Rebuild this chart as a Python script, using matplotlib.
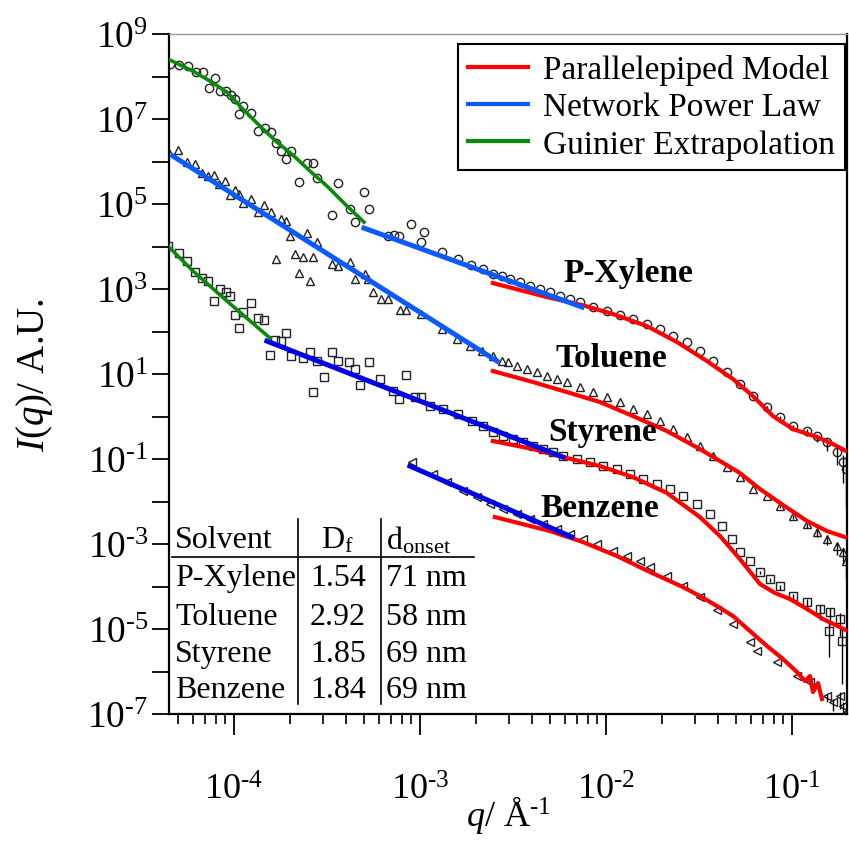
import numpy as np
import matplotlib
matplotlib.use("Agg")
import matplotlib.pyplot as plt
from matplotlib.lines import Line2D
from matplotlib.ticker import LogLocator, NullLocator, NullFormatter

plt.rcParams['font.family'] = ['Liberation Serif', 'DejaVu Serif']
plt.rcParams['mathtext.fontset'] = 'custom'
plt.rcParams['mathtext.rm'] = 'Liberation Serif'
plt.rcParams['mathtext.it'] = 'Liberation Serif:italic'
plt.rcParams['mathtext.bf'] = 'Liberation Serif:bold'

# values, stored as log10(q) and log10(I)
xyl_lq = [-4.344, -4.296, -4.247, -4.204, -4.167, -4.102, -4.134, -4.075, -4.043, -4.016,
          -3.995, -3.952, -3.973, -3.909, -3.871, -3.833, -3.801, -3.774, -3.747, -3.694,
          -3.720, -3.608, -3.575, -3.554, -3.651, -3.441, -3.301, -3.274, -3.376, -3.473,
          -3.349, -3.048, -2.978, -2.995, -3.172, -3.140, -3.113, -2.882, -2.796, -2.726,
          -2.661, -2.608, -2.559, -2.516, -2.462, -2.409, -2.355, -2.301, -2.247, -2.194,
          -2.140, -2.070, -1.995, -1.925, -1.855, -1.780, -1.710, -1.640, -1.565, -1.495,
          -1.425, -1.349, -1.280, -1.210, -1.134, -1.065, -0.995, -0.919, -0.866, -0.812,
          -0.758, -0.726, -0.710]
xyl_lI = [8.294, 8.271, 8.247, 8.106, 8.106, 7.965, 7.729, 7.659, 7.659, 7.565,
          7.471, 7.306, 7.118, 7.141, 6.718, 6.788, 6.694, 6.435, 6.247, 6.247,
          6.059, 5.965, 5.965, 5.612, 5.518, 5.494, 5.282, 4.882, 4.882, 4.741,
          4.576, 4.529, 4.341, 4.106, 4.247, 4.271, 4.247, 3.871, 3.706, 3.565,
          3.471, 3.353, 3.306, 3.235, 3.165, 3.071, 3.000, 2.929, 2.835, 2.765,
          2.694, 2.576, 2.482, 2.388, 2.294, 2.176, 2.059, 1.894, 1.753, 1.541,
          1.306, 1.047, 0.765, 0.482, 0.224, -0.012, -0.224, -0.341, -0.459, -0.600,
          -0.835, -1.071, -1.235]
xyl_err = [0.05, 0.05, 0.08, 0.1, 0.12, 0.15, 0.2, 0.3, 0.5, 0.9]

tol_lq = [-4.355, -4.301, -4.253, -4.210, -4.172, -4.140, -4.108, -4.048, -4.081, -3.995,
          -4.022, -3.973, -3.909, -3.952, -3.839, -3.871, -3.801, -3.747, -3.720, -3.608,
          -3.699, -3.554, -3.774, -3.672, -3.629, -3.575, -3.376, -3.473, -3.441, -3.651,
          -3.591, -3.349, -3.296, -3.280, -3.253, -3.210, -3.172, -3.108, -3.075, -2.995,
          -2.882, -2.801, -2.731, -2.667, -2.608, -2.559, -2.527, -2.478, -2.425, -2.371,
          -2.317, -2.263, -2.210, -2.140, -2.070, -1.995, -1.925, -1.855, -1.780, -1.710,
          -1.640, -1.565, -1.495, -1.425, -1.349, -1.280, -1.210, -1.134, -1.065, -0.995,
          -0.919, -0.866, -0.812, -0.758, -0.726, -0.710]
tol_lI = [6.247, 6.271, 5.988, 5.941, 5.729, 5.659, 5.682, 5.541, 5.471, 5.329,
          5.212, 5.235, 5.118, 5.024, 4.976, 4.812, 4.812, 4.647, 4.600, 4.318,
          4.247, 4.106, 3.706, 3.824, 3.753, 3.753, 3.635, 3.588, 3.541, 3.376,
          3.188, 3.235, 3.353, 3.235, 2.929, 2.765, 2.765, 2.506, 2.506, 2.412,
          2.059, 1.824, 1.659, 1.541, 1.424, 1.306, 1.282, 1.188, 1.118, 1.047,
          0.953, 0.882, 0.812, 0.694, 0.576, 0.459, 0.341, 0.176, 0.059, -0.106,
          -0.294, -0.482, -0.694, -0.929, -1.188, -1.424, -1.706, -1.871, -2.106, -2.341,
          -2.529, -2.718, -2.882, -3.047, -3.188, -3.400]
tol_err = [0.05, 0.08, 0.1, 0.12, 0.15, 0.2, 0.25, 0.4]

sty_lq = [-4.355, -4.296, -4.253, -4.210, -4.172, -4.140, -4.075, -4.043, -4.022, -4.108,
          -3.995, -3.952, -3.909, -3.871, -3.839, -3.973, -3.780, -3.747, -3.720, -3.806,
          -3.694, -3.629, -3.591, -3.554, -3.473, -3.441, -3.382, -3.349, -3.274, -3.516,
          -3.575, -3.323, -3.215, -3.075, -3.145, -3.113, -3.027, -2.995, -2.946, -2.876,
          -2.796, -2.720, -2.661, -2.608, -2.554, -2.500, -2.446, -2.392, -2.339, -2.285,
          -2.231, -2.156, -2.086, -2.016, -1.941, -1.871, -1.801, -1.726, -1.656, -1.586,
          -1.511, -1.441, -1.376, -1.323, -1.280, -1.226, -1.172, -1.118, -1.065, -0.995,
          -0.919, -0.849, -0.796, -0.742, -0.801, -0.731]
sty_lI = [4.012, 3.847, 3.659, 3.400, 3.259, 3.188, 3.000, 2.929, 2.835, 2.718,
          2.388, 2.459, 2.671, 2.318, 2.271, 2.082, 1.800, 1.776, 1.965, 1.447,
          1.424, 1.376, 1.518, 1.306, 1.518, 1.306, 1.282, 1.118, 1.282, 0.929,
          0.576, 0.741, 0.882, 0.976, 0.600, 0.412, 0.459, 0.459, 0.247, 0.176,
          0.059, -0.106, -0.224, -0.365, -0.459, -0.529, -0.600, -0.694, -0.765, -0.835,
          -0.929, -1.000, -1.071, -1.165, -1.235, -1.353, -1.471, -1.588, -1.706, -1.871,
          -2.059, -2.294, -2.576, -2.882, -3.188, -3.400, -3.659, -3.824, -3.988, -4.224,
          -4.365, -4.529, -4.600, -4.765, -5.047, -5.282]
sty_err = [0.05, 0.08, 0.1, 0.15, 0.2, 0.25, 0.3, 0.4, 0.6, 1.0]

ben_lq = [-3.043, -2.930, -2.855, -2.769, -2.694, -2.624, -2.554, -2.478, -2.409, -2.339,
          -2.263, -2.194, -2.124, -2.048, -1.962, -1.887, -1.817, -1.763, -1.672, -1.586,
          -1.495, -1.403, -1.317, -1.226, -1.188, -1.081, -0.973, -0.903, -0.812, -0.780,
          -0.742, -0.726, -0.704]
ben_lI = [-1.071, -1.353, -1.541, -1.753, -1.894, -2.059, -2.176, -2.294, -2.412, -2.529,
          -2.647, -2.765, -2.882, -3.000, -3.165, -3.282, -3.400, -3.541, -3.753, -3.988,
          -4.247, -4.553, -4.882, -5.306, -5.518, -5.776, -6.106, -6.247, -6.576, -6.718,
          -6.576, -6.812, -6.953]
ben_err = [0.1, 0.15, 0.2, 0.3, 0.3, 0.5]

# parallelepiped model fits
xyl_model_lq = [-2.608, -2.317, -2.129, -1.962, -1.780, -1.618, -1.457, -1.317, -1.210, -1.102,
                -0.995, -0.866, -0.780, -0.699]
xyl_model_lI = [3.141, 2.812, 2.624, 2.412, 2.129, 1.753, 1.306, 0.882, 0.482, 0.012,
                -0.294, -0.482, -0.647, -0.835]
tol_model_lq = [-2.608, -2.392, -2.210, -2.032, -1.855, -1.672, -1.495, -1.387, -1.280, -1.172,
                -1.048, -0.919, -0.812, -0.699]
tol_model_lI = [1.071, 0.812, 0.576, 0.341, 0.012, -0.341, -0.765, -1.047, -1.329, -1.706,
                -2.082, -2.459, -2.694, -2.859]
sty_model_lq = [-2.608, -2.392, -2.231, -2.032, -1.855, -1.672, -1.495, -1.387, -1.280, -1.172,
                -1.091, -1.011, -0.919, -0.833, -0.699]
sty_model_lI = [-0.576, -0.765, -0.953, -1.165, -1.424, -1.800, -2.365, -2.812, -3.353, -3.941,
                -4.153, -4.294, -4.529, -4.765, -5.047]
ben_model_lq = [-2.597, -2.301, -2.124, -1.941, -1.763, -1.586, -1.495, -1.403, -1.317, -1.226,
                -1.134, -1.048, -0.973, -0.930, -0.903, -0.887, -0.860, -0.839]
ben_model_lI = [-2.365, -2.694, -2.953, -3.282, -3.659, -4.012, -4.224, -4.459, -4.694, -5.047,
                -5.400, -5.706, -6.012, -6.224, -6.106, -6.482, -6.271, -6.647]

# network power law segments (end points)
xyl_power_lq, xyl_power_lI = [-3.301, -2.129], [4.435, 2.576]
tol_power_lq, tol_power_lI = [-4.328, -2.586], [6.129, 1.306]
sty_power_lq, sty_power_lI = [-3.823, -2.231], [1.776, -0.953]
ben_power_lq, ben_power_lI = [-3.054, -2.183], [-1.165, -2.835]

# guinier extrapolations
xyl_guin_lq = [-4.355, -4.220, -4.129, -4.038, -3.952, -3.860, -3.769, -3.683, -3.591, -3.500,
               -3.392, -3.301]
xyl_guin_lI = [8.412, 8.129, 7.894, 7.635, 7.235, 6.835, 6.459, 6.153, 5.776, 5.424,
               4.953, 4.576]
sty_guin_lq = [-4.355, -4.220, -4.038, -3.806]
sty_guin_lI = [4.012, 3.424, 2.718, 1.847]

solvents = ['P-Xylene', 'Toluene', 'Styrene', 'Benzene']
dims = ['1.54', '2.92', '1.85', '1.84']
onsets = ['71 nm', '58 nm', '69 nm', '69 nm']

RED = '#ff0000'
AZURE = '#0a5aff'
BLUE = '#0000e6'
GREEN = '#0a8a0a'


def p(v):
    return 10.0 ** np.asarray(v, dtype=float)


def sci(k):
    # hyphen-style exponent, like the original figure
    return r'10$^{\text{%d}}$' % k


fig = plt.figure(figsize=(8.49, 8.45), dpi=100)
ax = fig.add_axes([0.1991, 0.1538, 0.7986, 0.8047])
ax.set_xscale('log')
ax.set_yscale('log')

series = [(xyl_lq, xyl_lI, 'o', xyl_err),
          (tol_lq, tol_lI, '^', tol_err),
          (sty_lq, sty_lI, 's', sty_err),
          (ben_lq, ben_lI, '<', ben_err)]
for lq, lI, m, err in series:
    q, I = p(lq), p(lI)
    ax.plot(q, I, ls='none', marker=m, ms=6, mfc='none', mec='#222222', mew=1.0, zorder=2)
    n = len(err)
    e = np.array(err)
    lo = I[-n:] * (1 - 10 ** -e)
    hi = I[-n:] * (10 ** (e / 3) - 1)
    ax.errorbar(q[-n:], I[-n:], yerr=[lo, hi], fmt='none', ecolor='black',
                elinewidth=1.0, capsize=0, zorder=2)

for mq, mI in [(xyl_model_lq, xyl_model_lI), (tol_model_lq, tol_model_lI),
               (sty_model_lq, sty_model_lI), (ben_model_lq, ben_model_lI)]:
    ax.plot(p(mq), p(mI), color=RED, lw=3.0, zorder=3)

for pq, pI, c in [(xyl_power_lq, xyl_power_lI, AZURE), (tol_power_lq, tol_power_lI, AZURE),
                  (sty_power_lq, sty_power_lI, BLUE), (ben_power_lq, ben_power_lI, BLUE)]:
    ax.plot(p(pq), p(pI), color=c, lw=3.6, zorder=4)

for gq, gI in [(xyl_guin_lq, xyl_guin_lI), (sty_guin_lq, sty_guin_lI)]:
    ax.plot(p(gq), p(gI), color=GREEN, lw=2.6, zorder=4)

ax.set_xlim(10 ** -4.349, 10 ** -0.704)
ax.set_ylim(1e-7, 1e9)

xt = [1e-4, 1e-3, 1e-2, 1e-1]
ax.set_xticks(xt)
ax.set_xticklabels([sci(int(round(np.log10(v)))) for v in xt])
ax.xaxis.set_minor_locator(LogLocator(base=10, subs=np.arange(2, 10)))
ax.xaxis.set_minor_formatter(NullFormatter())
yexp = np.arange(-7, 10)
ax.set_yticks(10.0 ** yexp)
ax.set_yticklabels([sci(k) if k % 2 else '' for k in yexp])
ax.yaxis.set_minor_locator(NullLocator())

ax.tick_params(axis='x', which='major', direction='out', length=15, width=1.3,
               labelsize=26, pad=28, top=False)
ax.tick_params(axis='x', which='minor', direction='out', length=7, width=1.2, top=False)
ax.tick_params(axis='y', which='major', direction='out', length=12, width=1.3,
               labelsize=27, pad=3, right=False)
for s in ['left', 'bottom', 'right']:
    ax.spines[s].set_linewidth(1.6)
ax.spines['top'].set_linewidth(1.0)
ax.spines['top'].set_color('#999999')

ax.set_xlabel(r'$\mathit{q}$/ Å$^{\text{-1}}$', fontsize=26, labelpad=-10)
ax.set_ylabel(r'$\mathit{I(q)}$/ A.U.', fontsize=28, labelpad=23)

handles = [Line2D([], [], color=RED, lw=3), Line2D([], [], color=AZURE, lw=3),
           Line2D([], [], color=GREEN, lw=3)]
leg = ax.legend(handles, ['Parallelepiped Model', 'Network Power Law', 'Guinier Extrapolation'],
                loc='upper right', bbox_to_anchor=(0.997, 0.985), fontsize=24,
                frameon=True, fancybox=False, edgecolor='black', framealpha=1,
                handlelength=1.8, handletextpad=0.45, labelspacing=0.2,
                borderpad=0.3, borderaxespad=0)
leg.get_frame().set_linewidth(1.5)

# curve labels
for name, (fx, fy) in zip(solvents, [(0.677, 0.650), (0.652, 0.525), (0.639, 0.415), (0.636, 0.304)]):
    ax.text(fx, fy, name, transform=ax.transAxes, fontsize=24, fontweight='bold',
            ha='center', va='center', zorder=5)

# table of fit results
tab_fs = 23
ax.text(0.009, 0.257, 'Solvent', transform=ax.transAxes, fontsize=tab_fs, ha='left', va='center')
ax.text(0.249, 0.257, r'D$_\mathregular{f}$', transform=ax.transAxes, fontsize=tab_fs,
        ha='center', va='center')
ax.text(0.320, 0.257, r'd$_\mathregular{onset}$', transform=ax.transAxes, fontsize=tab_fs,
        ha='left', va='center')
row_y = [0.2015, 0.1441, 0.0897, 0.0368]
for yy, sv, df, on in zip(row_y, solvents, dims, onsets):
    ax.text(0.009, yy, sv, transform=ax.transAxes, fontsize=tab_fs, ha='left', va='center')
    ax.text(0.249, yy, df, transform=ax.transAxes, fontsize=tab_fs, ha='center', va='center')
    ax.text(0.320, yy, on, transform=ax.transAxes, fontsize=tab_fs, ha='left', va='center')
ax.plot([0.0044, 0.4499], [0.2309, 0.2309], transform=ax.transAxes, color='black', lw=1.2)
ax.plot([0.1903, 0.1903], [0.0147, 0.2868], transform=ax.transAxes, color='black', lw=1.2)
ax.plot([0.3127, 0.3127], [0.0147, 0.2868], transform=ax.transAxes, color='black', lw=1.2)

fig.savefig('out.png', dpi=100)
